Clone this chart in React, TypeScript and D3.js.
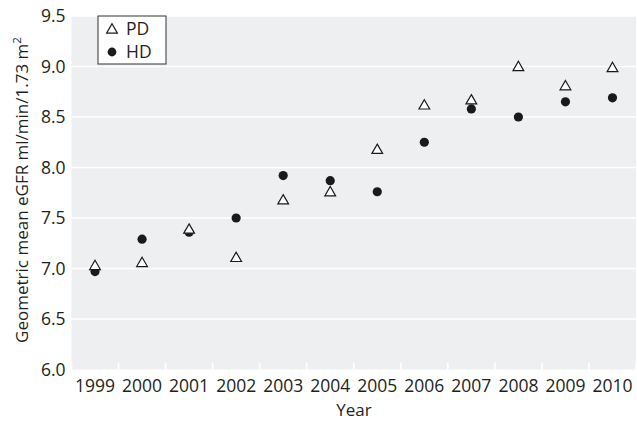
import React from "react";
import * as d3 from "d3";

const years = ["1999", "2000", "2001", "2002", "2003", "2004", "2005", "2006", "2007", "2008", "2009", "2010"];
const pdValues = [7.03, 7.06, 7.39, 7.11, 7.68, 7.76, 8.18, 8.62, 8.67, 9.0, 8.81, 8.99];
const hdValues = [6.97, 7.29, 7.36, 7.5, 7.92, 7.87, 7.76, 8.25, 8.58, 8.5, 8.65, 8.69];
const yTicks = [6.0, 6.5, 7.0, 7.5, 8.0, 8.5, 9.0, 9.5];
const legendItems = ["PD", "HD"];

const W = 637;
const H = 426;
const m = { left: 71.5, right: 1, top: 16, bottom: 56.5 };
const FONT = "'Open Sans', 'Noto Sans', sans-serif";
const TXT = "#231f20";

export default function App() {
  const x = d3.scaleBand<string>().domain(years).range([m.left, W - m.right]);
  const y = d3.scaleLinear().domain([6, 9.5]).range([H - m.bottom, m.top]);
  const cx = (yr: string) => (x(yr) as number) + x.bandwidth() / 2;
  const tri = d3.symbol().type(d3.symbolTriangle).size(50);
  const boundaries = years.map((yr) => x(yr) as number).concat([W - m.right]);

  return (
    <svg width={W} height={H} style={{ position: "absolute", left: 0, top: 0 }} fontFamily={FONT}>
      <rect x={m.left} y={m.top} width={W - m.right - m.left} height={H - m.bottom - m.top} fill="#eeeff1" />
      {yTicks.slice(1).map((t) => (
        <line key={t} x1={m.left} x2={W - m.right} y1={y(t)} y2={y(t)} stroke="#fff" strokeWidth={1.6} />
      ))}
      {boundaries.map((bx, i) => (
        <line key={i} x1={bx} x2={bx} y1={H - m.bottom} y2={H - m.bottom - 7} stroke="#fff" strokeWidth={1.6} />
      ))}
      {yTicks.map((t) => (
        <text key={t} x={65.5} y={y(t)} dy="0.36em" textAnchor="end" fontSize={17.5} fill={TXT}>
          {t.toFixed(1)}
        </text>
      ))}
      {years.map((yr) => (
        <text key={yr} x={cx(yr)} y={391.5} textAnchor="middle" fontSize={17.5} fill={TXT}>
          {yr}
        </text>
      ))}
      <text x={354} y={416} textAnchor="middle" fontSize={17} fill={TXT}>Year</text>
      <text transform={`translate(28,${190}) rotate(-90)`} textAnchor="middle" fontSize={17} fill={TXT}>
        Geometric mean eGFR ml/min/1.73 m<tspan dy="-7" fontSize={11.5}>2</tspan>
      </text>

      {years.map((yr, i) => (
        <circle key={"hd" + yr} cx={cx(yr)} cy={y(hdValues[i])} r={4.6} fill="#1a1a1a" />
      ))}
      {years.map((yr, i) => (
        <path
          key={"pd" + yr}
          d={tri() as string}
          transform={`translate(${cx(yr)},${y(pdValues[i]) + 1})`}
          fill="#fff"
          stroke="#1a1a1a"
          strokeWidth={1.2}
        />
      ))}

      <rect x={98} y={16} width={68} height={48} fill="#fff" stroke="#333" strokeWidth={1} />
      {legendItems.map((name, i) => (
        <g key={name} transform={`translate(0,${29 + i * 23})`}>
          {i === 0 ? (
            <path d={tri() as string} transform="translate(112,1)" fill="#fff" stroke="#1a1a1a" strokeWidth={1.2} />
          ) : (
            <circle cx={112} cy={0} r={4.4} fill="#1a1a1a" />
          )}
          <text x={126} y={0} dy="0.36em" fontSize={17.5} fill={TXT}>
            {name}
          </text>
        </g>
      ))}
    </svg>
  );
}
